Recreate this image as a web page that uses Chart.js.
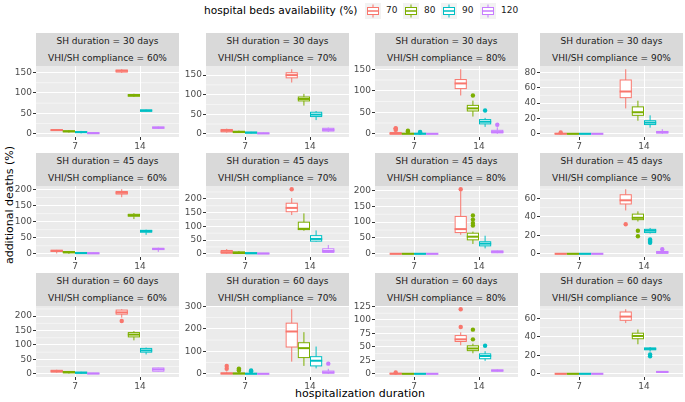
<!DOCTYPE html>
<html>
<head>
<meta charset="utf-8">
<script src="https://cdn.jsdelivr.net/npm/chart.js@4.4.0/dist/chart.umd.min.js"></script>
<style>
  body { margin: 0; width: 685px; height: 402px; position: relative; overflow: hidden; background: #fff;
         font-family: "DejaVu Sans", sans-serif; }
  .strip { position: absolute; background: #D9D9D9; color: #1A1A1A; font-size: 9px; text-align: center;
           height: 16.5px; line-height: 16.5px; white-space: nowrap; }
  canvas { position: absolute; }
  .title { position: absolute; font-size: 11px; color: #000; white-space: nowrap; }
  .key { position: absolute; top: 3px; width: 16px; height: 16px; }
  .keylab { position: absolute; top: 5px; font-size: 9px; color: #1A1A1A; }
</style>
</head>
<body>
<div class="title" style="left:204px;top:4px;font-size:10.6px">hospital beds availability (%)</div>
<div class="title" style="left:9px;top:205px;transform:translate(-50%,-50%) rotate(-90deg)">additional deaths (%)</div>
<div class="title" style="left:360px;top:393px;transform:translate(-50%,-50%)">hospitalization duration</div>
<script>
const bedGroups = ['70', '80', '90', '120'];
const bedColors = ['#F8766D', '#7CAE00', '#00BFC4', '#C77CFF'];
const durations = ['7', '14'];
const shDays = [30, 45, 60];
const compliance = [60, 70, 80, 90];

// per bed group: [7 days, 14 days], each [lower whisker, q1, median, q3, upper whisker]
const sh30c60 = [
  [[7, 8, 9, 10, 11], [149, 151, 154, 156, 158]],
  [[3, 5, 6, 7, 9], [90, 92, 94, 96, 98]],
  [[1, 3, 4, 5, 7], [54, 55, 57, 58, 59]],
  [[0, 0.5, 1.5, 3, 4], [12, 13.5, 15, 16.5, 17.5]]
];
const sh30c70 = [
  [[3, 5, 8, 11, 13], [131, 143, 150, 156, 165]],
  [[2, 3, 5, 6, 8], [72, 84, 89, 94, 102]],
  [[1, 2, 3, 4, 5], [35, 44, 49, 55, 58]],
  [[0, 0.5, 1, 2, 3], [5, 7, 10, 14, 16]]
];
const sh30c80 = [
  [[0, 0, 0, 3, 6], [89, 105, 117, 126, 150]],
  [[0, 0, 0, 1, 3], [40, 53, 59, 66, 77]],
  [[0, 0, 0, 1, 2], [16, 23, 28, 33, 37]],
  [[0, 0, 0, 0, 0.5], [0, 2, 4, 8, 15]]
];
const sh30c90 = [
  [[0, 0, 0, 0.5, 1], [33, 47, 55, 70, 84]],
  [[0, 0, 0, 0, 0], [17, 24, 28, 35, 43]],
  [[0, 0, 0, 0, 0], [8, 12, 14.5, 17, 24]],
  [[0, 0, 0, 0, 0], [0, 1, 2, 3, 6]]
];
const sh45c60 = [
  [[1, 7, 9, 11, 12], [176, 186, 190, 194, 201]],
  [[0, 3, 5, 7, 8], [108, 117, 120, 123, 127]],
  [[0, 1, 2, 4, 5], [59, 67, 71, 73, 75]],
  [[0, 0.5, 1.5, 3, 4], [6, 13, 15, 17, 19]]
];
const sh45c70 = [
  [[0, 2, 6, 12, 17], [141, 153, 167, 184, 203]],
  [[0, 1, 3, 7, 10], [84, 88, 91, 115, 147]],
  [[0, 0.5, 2, 4, 5], [44, 46, 54, 66, 85]],
  [[0, 0, 1, 2, 3], [3, 5, 10, 18, 32]]
];
const sh45c80 = [
  [[0, 0, 0, 0, 0], [60, 67, 78, 118, 198]],
  [[0, 0, 0, 0, 0], [31, 44, 54, 65, 70]],
  [[0, 0, 0, 0, 0], [17, 25, 32, 38, 57]],
  [[0, 0, 0, 0, 0], [2, 3, 6, 9, 10]]
];
const sh45c90 = [
  [[0, 0, 0, 0, 0], [47, 54, 58, 64, 70]],
  [[0, 0, 0, 0, 0], [35, 37, 39, 43, 46]],
  [[0, 0, 0, 0, 0], [22, 23, 25, 26.5, 28]],
  [[0, 0, 0, 0, 0], [0, 0.5, 1.5, 2.5, 3.5]]
];
const sh60c60 = [
  [[4, 6, 9, 12, 14], [195, 207, 213, 221, 224]],
  [[1, 3, 6, 8, 9], [116, 128, 136, 143, 148]],
  [[0, 2, 4, 5, 7], [67, 75, 81, 88, 91]],
  [[0, 0, 1, 2, 3], [8, 9, 15, 20, 21]]
];
const sh60c70 = [
  [[0, 0, 1, 4, 10], [54, 119, 188, 225, 287]],
  [[0, 0, 1, 3, 8], [35, 72, 114, 138, 185]],
  [[0, 0, 0, 2, 6], [24, 35, 58, 76, 121]],
  [[0, 0, 0, 0, 1], [0, 3, 6, 12, 22]]
];
const sh60c80 = [
  [[0, 0, 0, 1, 2], [53, 60, 64, 71, 77]],
  [[0, 0, 0, 0, 0], [38, 43, 47, 52, 56]],
  [[0, 0, 0, 0, 0], [24, 28, 33, 37, 42]],
  [[0, 0, 0, 0, 0], [4, 5, 6, 7, 8]]
];
const sh60c90 = [
  [[0, 0, 0, 0, 0], [55, 58, 62, 67, 70]],
  [[0, 0, 0, 0, 0], [32, 38, 41, 44, 48]],
  [[0, 0, 0, 0, 0], [24, 26, 27, 28, 29]],
  [[0, 0, 0, 0, 0], [1, 1.5, 2, 2.5, 3]]
];

// outliers: [bed group index, duration index, value]
const out30c80 = [[0, 0, 9], [0, 0, 12], [0, 0, 13], [1, 0, 5], [1, 0, 7], [1, 1, 89], [2, 0, 3], [2, 0, 4], [2, 1, 54], [3, 1, 21]];
const out30c90 = [[0, 0, 1.8]];
const out45c70 = [[0, 1, 235]];
const out45c80 = [[0, 1, 204], [1, 1, 89], [1, 1, 97], [1, 1, 108], [1, 1, 121]];
const out45c90 = [[0, 1, 32], [1, 1, 19], [1, 1, 25], [2, 1, 12], [2, 1, 13], [2, 1, 14], [2, 1, 15.5], [3, 1, 5]];
const out60c60 = [[0, 1, 183]];
const out60c70 = [[0, 0, 22], [0, 0, 35], [1, 0, 14], [1, 0, 18], [1, 0, 23], [2, 0, 11], [2, 0, 15], [3, 1, 45]];
const out60c80 = [[0, 0, 2.5], [0, 1, 87], [0, 1, 120], [1, 1, 64], [1, 1, 82], [2, 1, 52]];
const out60c90 = [[2, 1, 19], [2, 1, 21]];

const ticks50to150 = [0, 50, 100, 150];
const ticks50to200 = [0, 50, 100, 150, 200];
const ticks20to80 = [0, 20, 40, 60, 80];
const ticks20to60 = [0, 20, 40, 60];
const ticks100to300 = [0, 100, 200, 300];
const ticks25to125 = [0, 25, 50, 75, 100, 125];

const panels = [
  [sh30c60, [], ticks50to150], [sh30c70, [], ticks50to150], [sh30c80, out30c80, ticks50to150], [sh30c90, out30c90, ticks20to80],
  [sh45c60, [], ticks50to200], [sh45c70, out45c70, ticks50to200], [sh45c80, out45c80, ticks50to200], [sh45c90, out45c90, ticks20to60],
  [sh60c60, out60c60, ticks50to200], [sh60c70, out60c70, ticks100to300], [sh60c80, out60c80, ticks25to125], [sh60c90, out60c90, ticks20to60]
];

const colLeft = [36, 206, 375, 540];
const rowTop = [33, 153, 273];
const plotW = 143, plotH = 71, yAxisW = 34, xAxisH = 16, padTop = 8, padRight = 6;

// legend keys
bedGroups.forEach((g, i) => {
  const kx = [365, 403, 441, 480][i];
  const key = document.createElement('div');
  key.className = 'key';
  key.style.left = kx + 'px';
  key.innerHTML = `<svg width="16" height="16"><rect width="16" height="16" fill="#F2F2F2"/>
    <line x1="8" y1="1.5" x2="8" y2="14.5" stroke="${bedColors[i]}" stroke-width="1"/>
    <rect x="2.5" y="4.5" width="11" height="7" fill="#fff" stroke="${bedColors[i]}" stroke-width="1"/>
    <line x1="2.5" y1="8" x2="13.5" y2="8" stroke="${bedColors[i]}" stroke-width="1.5"/></svg>`;
  document.body.appendChild(key);
  const lab = document.createElement('div');
  lab.className = 'keylab';
  lab.style.left = (kx + 21) + 'px';
  lab.textContent = g;
  document.body.appendChild(lab);
});

function boxPlugin(outliers, yTicks) {
  return {
    id: 'boxes',
    beforeDraw(chart) {
      const { ctx, chartArea: a, scales: { y } } = chart;
      ctx.save();
      ctx.fillStyle = '#EBEBEB';
      ctx.fillRect(a.left, a.top, a.width, a.height);
      // minor grid lines half way between the breaks
      const step = yTicks[1] - yTicks[0];
      ctx.strokeStyle = '#FFFFFF';
      ctx.lineWidth = 0.5;
      for (let v = yTicks[0] - step / 2; v <= y.max; v += step) {
        if (v < y.min) continue;
        const py = y.getPixelForValue(v);
        ctx.beginPath();
        ctx.moveTo(a.left, py);
        ctx.lineTo(a.right, py);
        ctx.stroke();
      }
      ctx.restore();
    },
    afterDatasetsDraw(chart) {
      const { ctx, scales: { y } } = chart;
      const py = v => y.getPixelForValue(v);
      ctx.save();
      chart.data.datasets.forEach((ds, g) => {
        const meta = chart.getDatasetMeta(g);
        meta.data.forEach((bar, d) => {
          const s = ds.stats[d];
          const x = bar.x, hw = bar.width / 2;
          ctx.strokeStyle = ds.boxColor;
          ctx.lineWidth = 1;
          ctx.beginPath();
          ctx.moveTo(x, py(s[0])); ctx.lineTo(x, py(s[1]));
          ctx.moveTo(x, py(s[3])); ctx.lineTo(x, py(s[4]));
          ctx.stroke();
          ctx.strokeRect(x - hw + 0.5, py(s[3]), 2 * hw - 1, py(s[1]) - py(s[3]));
          ctx.lineWidth = 2;
          ctx.beginPath();
          ctx.moveTo(x - hw, py(s[2])); ctx.lineTo(x + hw, py(s[2]));
          ctx.stroke();
        });
      });
      outliers.forEach(([g, d, v]) => {
        const bar = chart.getDatasetMeta(g).data[d];
        ctx.fillStyle = bedColors[g];
        ctx.beginPath();
        ctx.arc(bar.x, py(v), 2.2, 0, Math.PI * 2);
        ctx.fill();
      });
      ctx.restore();
    }
  };
}

panels.forEach(([stats, outliers, yTicks], p) => {
  const r = Math.floor(p / 4), c = p % 4;
  const left = colLeft[c], top = rowTop[r];

  const strip1 = document.createElement('div');
  strip1.className = 'strip';
  strip1.style.cssText = `left:${left}px;top:${top}px;width:${plotW}px`;
  strip1.textContent = `SH duration = ${shDays[r]} days`;
  const strip2 = document.createElement('div');
  strip2.className = 'strip';
  strip2.style.cssText = `left:${left}px;top:${top + 16.5}px;width:${plotW}px`;
  strip2.textContent = `VHI/SH compliance = ${compliance[c]}%`;
  document.body.appendChild(strip1);
  document.body.appendChild(strip2);

  const canvas = document.createElement('canvas');
  canvas.width = yAxisW + plotW + padRight;
  canvas.height = padTop + plotH + xAxisH;
  canvas.style.left = (left - yAxisW) + 'px';
  canvas.style.top = (top + 33 - padTop) + 'px';
  document.body.appendChild(canvas);

  // ggplot-like limits: data range widened by 5% on each side
  const values = stats.flat(2).concat(outliers.map(o => o[2]));
  const lo = Math.min(...values), hi = Math.max(...values);
  const pad = (hi - lo) * 0.05;

  new Chart(canvas.getContext('2d'), {
    type: 'bar',
    data: {
      datasets: bedGroups.map((g, i) => ({
        label: g,
        data: durations.map((dur, d) => ({ x: d + 1, y: [stats[i][d][1], stats[i][d][3]] })),
        stats: stats[i],
        boxColor: bedColors[i],
        backgroundColor: '#FFFFFF',
        borderWidth: 0
      }))
    },
    options: {
      responsive: false,
      animation: false,
      categoryPercentage: 0.75,
      barPercentage: 1,
      layout: { padding: { top: padTop, right: padRight, left: 0, bottom: 0 } },
      plugins: { legend: { display: false }, tooltip: { enabled: false } },
      scales: {
        x: {
          type: 'linear',
          min: 0.4,
          max: 2.6,
          offset: false,
          afterBuildTicks: s => { s.ticks = durations.map((dur, d) => ({ value: d + 1 })); },
          afterFit: s => { s.height = xAxisH; s.paddingLeft = 0; s.paddingRight = 0; },
          ticks: {
            callback: (v) => durations[v - 1],
            color: '#4D4D4D',
            font: { family: 'DejaVu Sans', size: 9 },
            padding: 1,
            autoSkip: false,
            maxRotation: 0
          },
          grid: { color: '#FFFFFF', lineWidth: 1, offset: false, tickLength: 3, tickColor: '#333333' },
          border: { display: false }
        },
        y: {
          beginAtZero: false,
          min: lo - pad,
          max: hi + pad,
          afterBuildTicks: s => { s.ticks = yTicks.filter(v => v >= s.min && v <= s.max).map(v => ({ value: v })); },
          afterFit: s => { s.width = yAxisW; s.paddingTop = 0; s.paddingBottom = 0; },
          ticks: {
            color: '#4D4D4D',
            font: { family: 'DejaVu Sans', size: 9 },
            padding: 1
          },
          grid: { color: '#FFFFFF', lineWidth: 1, tickLength: 3, tickColor: '#333333' },
          border: { display: false }
        }
      }
    },
    plugins: [boxPlugin(outliers, yTicks)]
  });
});
</script>
</body>
</html>
